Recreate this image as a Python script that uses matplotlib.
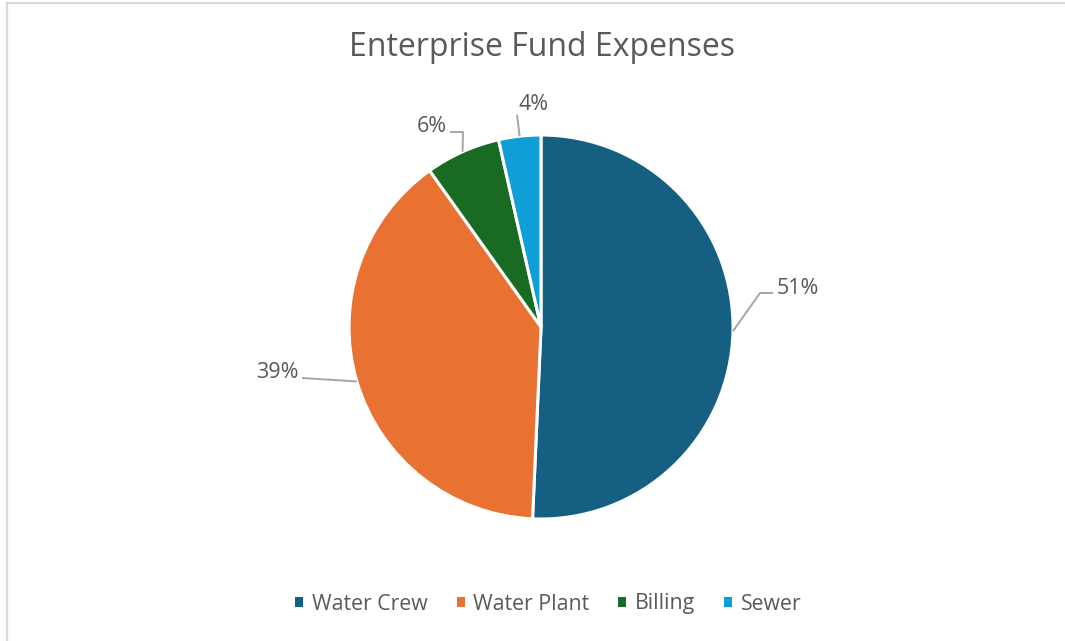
import matplotlib
matplotlib.use("Agg")
import matplotlib.pyplot as plt
import numpy as np

categories = ["Water Crew", "Water Plant", "Billing", "Sewer"]
values = [50.7, 39.45, 6.3, 3.55]
labels = ["51%", "39%", "6%", "4%"]
colors = ["#156082", "#E97132", "#196B24", "#0F9ED5"]

W, H = 1065, 641
plt.rcParams['font.family'] = ['Open Sans', 'DejaVu Sans']
fig = plt.figure(figsize=(W / 100, H / 100), dpi=100)
ax = fig.add_axes([0, 0, 1, 1])

cx, cy, r = 541, H - 327, 192
wedges, _ = ax.pie(values, colors=colors, startangle=90, counterclock=False,
                   center=(cx, cy), radius=r, frame=True,
                   wedgeprops=dict(edgecolor='white', linewidth=2.2))
ax.set_xlim(0, W)
ax.set_ylim(0, H)
ax.set_aspect('equal')
ax.axis('off')

txt_color = "#595959"
line_color = "#A6A6A6"

# leader-line layout (pixel positions, y measured downward from top)
layout = [
    dict(path=[(760, 293), (773, 293)], text=(777, 289), ha='left'),
    dict(path=[(302, 378)], text=(299, 372), ha='right'),
    dict(path=[(463, 132), (450, 132)], text=(447, 127), ha='right'),
    dict(path=[(517, 115)], text=(534, 104), ha='center'),
]

for w, lab, lay in zip(wedges, labels, layout):
    mid = np.deg2rad((w.theta1 + w.theta2) / 2)
    ex, ey = cx + r * np.cos(mid), cy + r * np.sin(mid)
    xs = [ex] + [p[0] for p in lay['path']]
    ys = [ey] + [H - p[1] for p in lay['path']]
    ax.plot(xs, ys, color=line_color, lw=1.4, solid_capstyle='butt')
    ax.text(lay['text'][0], H - lay['text'][1], lab, ha=lay['ha'], va='center',
            fontsize=15.5, color=txt_color)

ax.text(542, H - 47, "Enterprise Fund Expenses", ha='center', va='center',
        fontsize=23, color=txt_color)

leg = fig.legend(wedges, categories, loc='center', bbox_to_anchor=(548.5 / W, 1 - 604 / H),
                 ncol=4, frameon=False, fontsize=15.3, handlelength=0.37, handleheight=0.37,
                 handletextpad=0.42, columnspacing=1.35, labelcolor=txt_color)
for h in leg.legend_handles:
    h.set_edgecolor('none')

# chart border (left and top only visible)
fig.add_artist(plt.Line2D([6.5 / W, 6.5 / W], [0, 1 - 2.5 / H], color="#D9D9D9", lw=1.6,
                          transform=fig.transFigure))
fig.add_artist(plt.Line2D([6.5 / W, 1], [1 - 2.5 / H, 1 - 2.5 / H], color="#D9D9D9", lw=1.6,
                          transform=fig.transFigure))

fig.savefig("out.png", dpi=100, facecolor='white')
